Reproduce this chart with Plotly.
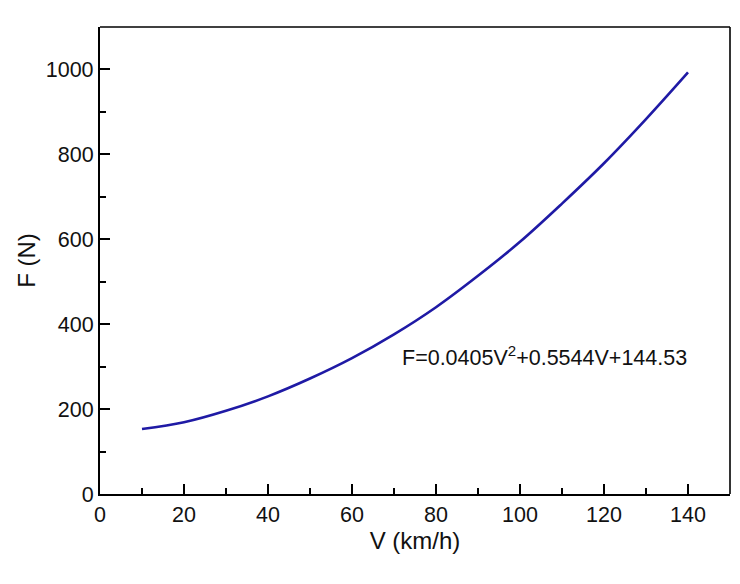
import plotly.graph_objects as go

speed_kmh = [10, 20, 30, 40, 50, 60, 70, 80, 90, 100, 110, 120, 130, 140]
force_n = [153, 169, 196, 230, 272, 320, 376, 440, 514, 594, 684, 779, 883, 993]

x_ticks = [0, 20, 40, 60, 80, 100, 120, 140]
y_ticks = [0, 200, 400, 600, 800, 1000]
equation = "F=0.0405V<sup>2</sup>+0.5544V+144.53"

FONT = "Liberation Sans, Arial, sans-serif"

fig = go.Figure()
fig.add_trace(go.Scatter(
    x=speed_kmh, y=force_n, mode="lines",
    line=dict(color="#1f1aa5", width=2.6, shape="spline", smoothing=1.0),
    showlegend=False,
))

fig.add_annotation(
    x=71.5, y=326, xref="x", yref="y", text=equation, showarrow=False,
    xanchor="left", yanchor="middle",
    font=dict(family=FONT, size=21.5, color="#111"),
)

axis_common = dict(
    showline=True, linecolor="black", linewidth=2.2,
    ticks="inside", ticklen=10, tickwidth=2, tickcolor="black",
    showgrid=False, zeroline=False,
    tickfont=dict(family=FONT, size=21.5, color="#111"),
)

fig.update_xaxes(
    range=[0, 150], tickvals=x_ticks,
    title=dict(text="V (km/h)", font=dict(family=FONT, size=24, color="#111"), standoff=6),
    minor=dict(ticks="inside", ticklen=6, tickwidth=1.5, tickcolor="black", dtick=10, tick0=0),
    **axis_common,
)
fig.update_yaxes(
    range=[0, 1100], tickvals=y_ticks,
    title=dict(text="F (N)", font=dict(family=FONT, size=24, color="#111"), standoff=3),
    minor=dict(ticks="inside", ticklen=6, tickwidth=1.5, tickcolor="black", dtick=100, tick0=0),
    **axis_common,
)

# top and right frame lines (thinner)
fig.add_shape(type="line", xref="paper", yref="paper", x0=0, x1=1, y0=1, y1=1,
              line=dict(color="black", width=1.6))
fig.add_shape(type="line", xref="paper", yref="paper", x0=1, x1=1, y0=0, y1=1,
              line=dict(color="black", width=1.6))

fig.update_layout(
    width=740, height=584,
    margin=dict(l=100, r=10, t=27, b=90),
    paper_bgcolor="white", plot_bgcolor="white",
    font=dict(family=FONT, color="#111"),
)

fig.write_html("out.html")
